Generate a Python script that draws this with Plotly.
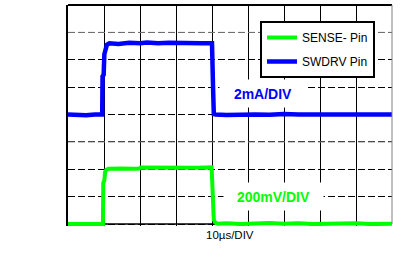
import plotly.graph_objects as go

# Time axis in divisions (10 µs/DIV), vertical in divisions
t_sense = [0, 0.3, 0.6, 0.9, 0.97, 0.98, 1.01, 1.03, 1.06, 1.12, 1.25, 1.5, 1.8, 1.98,
           2.02, 2.4, 2.8, 3.2, 3.6, 3.99, 4.01, 4.05, 4.1, 4.16, 4.4, 4.8, 5.2, 5.6,
           6.0, 6.4, 6.8, 7.2, 7.6, 8.0, 8.4, 8.8, 9.0]
v_sense = [0.0, 0.0, 0.0, 0.0, 0.0, 1.5, 1.6, 1.9, 1.98, 2.02, 2.03, 2.03, 2.02, 2.03,
           2.07, 2.06, 2.07, 2.07, 2.06, 2.07, 1.0, 0.15, 0.04, 0.01, 0.03, 0.0, 0.02,
           0.04, 0.01, 0.03, 0.0, 0.02, 0.01, 0.03, 0.0, 0.02, 0.01]

t_swdrv = [0, 0.25, 0.5, 0.75, 0.95, 0.96, 0.99, 1.01, 1.04, 1.08, 1.15, 1.4, 1.7, 2.0,
           2.2, 2.5, 2.8, 3.1, 3.4, 3.7, 4.0, 4.01, 4.03, 4.05, 4.1, 4.4, 4.8, 5.2, 5.6,
           6.0, 6.4, 6.8, 7.2, 7.6, 8.0, 8.4, 8.7, 9.0]
v_swdrv = [4.0, 3.98, 3.97, 4.0, 4.0, 5.4, 5.45, 6.2, 6.45, 6.55, 6.6, 6.58, 6.62, 6.6,
           6.63, 6.6, 6.62, 6.6, 6.61, 6.6, 6.6, 5.0, 4.95, 4.02, 4.0, 3.98, 4.01, 4.0,
           3.99, 4.02, 4.0, 4.0, 3.99, 4.01, 4.0, 4.0, 3.99, 4.0]

series_names = ["SENSE- Pin", "SWDRV Pin"]
scale_labels = ["200mV/DIV", "2mA/DIV"]
time_label = "10µs/DIV"

FONT = "Liberation Sans, Arial, sans-serif"
GREEN = "#00ff00"
BLUE = "#0000ff"

fig = go.Figure()
fig.add_trace(go.Scatter(x=t_sense, y=v_sense, mode="lines", name=series_names[0],
                         legendgroup="a", line=dict(color=GREEN, width=4)))
fig.add_trace(go.Scatter(x=t_swdrv, y=v_swdrv, mode="lines", name=series_names[1],
                         legendgroup="b", line=dict(color=BLUE, width=4.5)))

# two gray dashed grid lines
for yv in [3, 7]:
    fig.add_shape(type="line", xref="x", yref="y", x0=0, x1=9, y0=yv, y1=yv,
                  line=dict(color="#808080", width=1, dash="7px,3px"), layer="between")
# bottom border at zero level (under the traces)
fig.add_shape(type="line", xref="x", yref="y", x0=0, x1=9, y0=0, y1=0,
              line=dict(color="black", width=1.5), layer="between")
# top border (black) and right border (gray)
fig.add_shape(type="line", xref="paper", yref="paper", x0=0, x1=1, y0=1, y1=1,
              line=dict(color="black", width=2), layer="above")
fig.add_shape(type="line", xref="paper", yref="y", x0=1, x1=1, y0=0, y1=8,
              line=dict(color="#808080", width=1), layer="above")

fig.add_annotation(x=5.417, y=4.77, xref="x", yref="y", text=scale_labels[1],
                   showarrow=False, bgcolor="white", width=86, height=27, borderpad=0,
                   font=dict(family=FONT, size=14, color=BLUE, weight="bold"))
fig.add_annotation(x=5.71, y=1.01, xref="x", yref="y", text=scale_labels[0],
                   showarrow=False, bgcolor="white", width=99, height=27, borderpad=0,
                   font=dict(family=FONT, size=14, color=GREEN, weight="bold"))
fig.add_annotation(x=4.5, y=0, xref="x", yref="y", yanchor="top", yshift=-3,
                   text=time_label, showarrow=False,
                   font=dict(family=FONT, size=11.5, color="black"))

fig.update_xaxes(range=[0, 9], dtick=1, showgrid=True, gridcolor="black", gridwidth=1,
                 showticklabels=False, ticks="", zeroline=False, showline=False)
fig.update_yaxes(range=[-0.07, 8], dtick=1, tick0=0, showgrid=True, gridcolor="black",
                 gridwidth=1, griddash="7px,3px", showticklabels=False, ticks="",
                 zeroline=False, showline=True, mirror=False, linecolor="black",
                 linewidth=2, layer="above traces")

fig.update_layout(
    width=406, height=266,
    margin=dict(l=68, r=14, t=5, b=40),
    paper_bgcolor="white", plot_bgcolor="white",
    font=dict(family=FONT, size=12, color="black"),
    showlegend=True,
    legend=dict(x=0.5926, y=0.9276, xanchor="left", yanchor="top",
                bgcolor="white", bordercolor="black", borderwidth=2,
                tracegroupgap=5, font=dict(family=FONT, size=12, color="black")),
)

fig.write_html("out.html")
